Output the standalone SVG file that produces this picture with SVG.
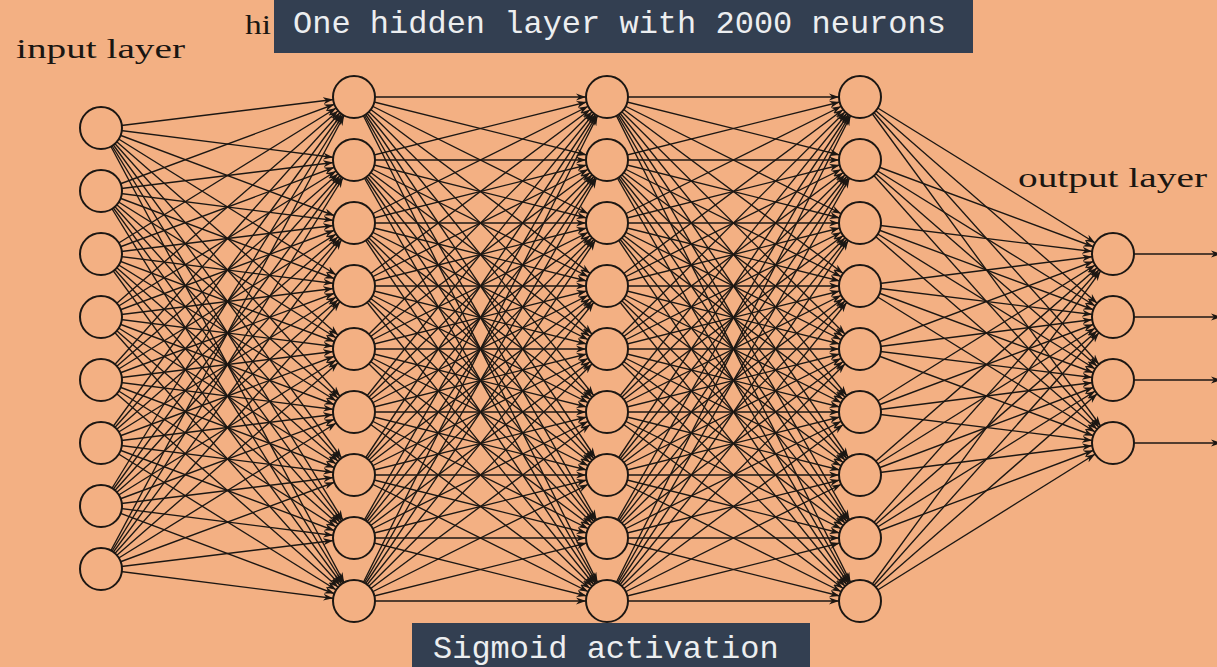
<svg xmlns="http://www.w3.org/2000/svg" width="1217" height="667" viewBox="0 0 1217 667">
<style>
.e{fill:none;stroke:#1c1713;stroke-width:1.35;marker-end:url(#ah)}
.o{fill:none;stroke:#1c1713;stroke-width:1.6;marker-end:url(#ah2)}
.n{fill:#f3b083;stroke:#1c1713;stroke-width:2}
.lbl{font-family:"Liberation Serif",serif;font-size:27px;fill:#1a1612}
.box{fill:#333f51}
.bt{font-family:"Liberation Mono",monospace;font-size:32px;fill:#eceef0}
</style>
<defs>
<marker id="ah" markerUnits="userSpaceOnUse" markerWidth="11" markerHeight="8" refX="31" refY="4" orient="auto"><path d="M0,0.5 L10,4 L0,7.5 L3,4 z" fill="#1c1713"/></marker>
<marker id="ah2" markerUnits="userSpaceOnUse" markerWidth="11" markerHeight="8" refX="10" refY="4" orient="auto"><path d="M0,0.5 L10,4 L0,7.5 L3,4 z" fill="#1c1713"/></marker>
</defs>
<rect width="1217" height="667" fill="#f3b083"/>
<g id="connectors">
<path class="e" d="M101 128L354 97"/><path class="e" d="M101 128L354 160"/><path class="e" d="M101 128L354 223"/><path class="e" d="M101 128L354 286"/><path class="e" d="M101 128L354 349"/><path class="e" d="M101 128L354 412"/><path class="e" d="M101 128L354 475"/><path class="e" d="M101 128L354 538"/><path class="e" d="M101 128L354 601"/>
<path class="e" d="M101 191L354 97"/><path class="e" d="M101 191L354 160"/><path class="e" d="M101 191L354 223"/><path class="e" d="M101 191L354 286"/><path class="e" d="M101 191L354 349"/><path class="e" d="M101 191L354 412"/><path class="e" d="M101 191L354 475"/><path class="e" d="M101 191L354 538"/><path class="e" d="M101 191L354 601"/>
<path class="e" d="M101 254L354 97"/><path class="e" d="M101 254L354 160"/><path class="e" d="M101 254L354 223"/><path class="e" d="M101 254L354 286"/><path class="e" d="M101 254L354 349"/><path class="e" d="M101 254L354 412"/><path class="e" d="M101 254L354 475"/><path class="e" d="M101 254L354 538"/><path class="e" d="M101 254L354 601"/>
<path class="e" d="M101 317L354 97"/><path class="e" d="M101 317L354 160"/><path class="e" d="M101 317L354 223"/><path class="e" d="M101 317L354 286"/><path class="e" d="M101 317L354 349"/><path class="e" d="M101 317L354 412"/><path class="e" d="M101 317L354 475"/><path class="e" d="M101 317L354 538"/><path class="e" d="M101 317L354 601"/>
<path class="e" d="M101 380L354 97"/><path class="e" d="M101 380L354 160"/><path class="e" d="M101 380L354 223"/><path class="e" d="M101 380L354 286"/><path class="e" d="M101 380L354 349"/><path class="e" d="M101 380L354 412"/><path class="e" d="M101 380L354 475"/><path class="e" d="M101 380L354 538"/><path class="e" d="M101 380L354 601"/>
<path class="e" d="M101 443L354 97"/><path class="e" d="M101 443L354 160"/><path class="e" d="M101 443L354 223"/><path class="e" d="M101 443L354 286"/><path class="e" d="M101 443L354 349"/><path class="e" d="M101 443L354 412"/><path class="e" d="M101 443L354 475"/><path class="e" d="M101 443L354 538"/><path class="e" d="M101 443L354 601"/>
<path class="e" d="M101 506L354 97"/><path class="e" d="M101 506L354 160"/><path class="e" d="M101 506L354 223"/><path class="e" d="M101 506L354 286"/><path class="e" d="M101 506L354 349"/><path class="e" d="M101 506L354 412"/><path class="e" d="M101 506L354 475"/><path class="e" d="M101 506L354 538"/><path class="e" d="M101 506L354 601"/>
<path class="e" d="M101 569L354 97"/><path class="e" d="M101 569L354 160"/><path class="e" d="M101 569L354 223"/><path class="e" d="M101 569L354 286"/><path class="e" d="M101 569L354 349"/><path class="e" d="M101 569L354 412"/><path class="e" d="M101 569L354 475"/><path class="e" d="M101 569L354 538"/><path class="e" d="M101 569L354 601"/>

<path class="e" d="M354 97L607 97"/><path class="e" d="M354 97L607 160"/><path class="e" d="M354 97L607 223"/><path class="e" d="M354 97L607 286"/><path class="e" d="M354 97L607 349"/><path class="e" d="M354 97L607 412"/><path class="e" d="M354 97L607 475"/><path class="e" d="M354 97L607 538"/><path class="e" d="M354 97L607 601"/>
<path class="e" d="M354 160L607 97"/><path class="e" d="M354 160L607 160"/><path class="e" d="M354 160L607 223"/><path class="e" d="M354 160L607 286"/><path class="e" d="M354 160L607 349"/><path class="e" d="M354 160L607 412"/><path class="e" d="M354 160L607 475"/><path class="e" d="M354 160L607 538"/><path class="e" d="M354 160L607 601"/>
<path class="e" d="M354 223L607 97"/><path class="e" d="M354 223L607 160"/><path class="e" d="M354 223L607 223"/><path class="e" d="M354 223L607 286"/><path class="e" d="M354 223L607 349"/><path class="e" d="M354 223L607 412"/><path class="e" d="M354 223L607 475"/><path class="e" d="M354 223L607 538"/><path class="e" d="M354 223L607 601"/>
<path class="e" d="M354 286L607 97"/><path class="e" d="M354 286L607 160"/><path class="e" d="M354 286L607 223"/><path class="e" d="M354 286L607 286"/><path class="e" d="M354 286L607 349"/><path class="e" d="M354 286L607 412"/><path class="e" d="M354 286L607 475"/><path class="e" d="M354 286L607 538"/><path class="e" d="M354 286L607 601"/>
<path class="e" d="M354 349L607 97"/><path class="e" d="M354 349L607 160"/><path class="e" d="M354 349L607 223"/><path class="e" d="M354 349L607 286"/><path class="e" d="M354 349L607 349"/><path class="e" d="M354 349L607 412"/><path class="e" d="M354 349L607 475"/><path class="e" d="M354 349L607 538"/><path class="e" d="M354 349L607 601"/>
<path class="e" d="M354 412L607 97"/><path class="e" d="M354 412L607 160"/><path class="e" d="M354 412L607 223"/><path class="e" d="M354 412L607 286"/><path class="e" d="M354 412L607 349"/><path class="e" d="M354 412L607 412"/><path class="e" d="M354 412L607 475"/><path class="e" d="M354 412L607 538"/><path class="e" d="M354 412L607 601"/>
<path class="e" d="M354 475L607 97"/><path class="e" d="M354 475L607 160"/><path class="e" d="M354 475L607 223"/><path class="e" d="M354 475L607 286"/><path class="e" d="M354 475L607 349"/><path class="e" d="M354 475L607 412"/><path class="e" d="M354 475L607 475"/><path class="e" d="M354 475L607 538"/><path class="e" d="M354 475L607 601"/>
<path class="e" d="M354 538L607 97"/><path class="e" d="M354 538L607 160"/><path class="e" d="M354 538L607 223"/><path class="e" d="M354 538L607 286"/><path class="e" d="M354 538L607 349"/><path class="e" d="M354 538L607 412"/><path class="e" d="M354 538L607 475"/><path class="e" d="M354 538L607 538"/><path class="e" d="M354 538L607 601"/>
<path class="e" d="M354 601L607 97"/><path class="e" d="M354 601L607 160"/><path class="e" d="M354 601L607 223"/><path class="e" d="M354 601L607 286"/><path class="e" d="M354 601L607 349"/><path class="e" d="M354 601L607 412"/><path class="e" d="M354 601L607 475"/><path class="e" d="M354 601L607 538"/><path class="e" d="M354 601L607 601"/>

<path class="e" d="M607 97L860 97"/><path class="e" d="M607 97L860 160"/><path class="e" d="M607 97L860 223"/><path class="e" d="M607 97L860 286"/><path class="e" d="M607 97L860 349"/><path class="e" d="M607 97L860 412"/><path class="e" d="M607 97L860 475"/><path class="e" d="M607 97L860 538"/><path class="e" d="M607 97L860 601"/>
<path class="e" d="M607 160L860 97"/><path class="e" d="M607 160L860 160"/><path class="e" d="M607 160L860 223"/><path class="e" d="M607 160L860 286"/><path class="e" d="M607 160L860 349"/><path class="e" d="M607 160L860 412"/><path class="e" d="M607 160L860 475"/><path class="e" d="M607 160L860 538"/><path class="e" d="M607 160L860 601"/>
<path class="e" d="M607 223L860 97"/><path class="e" d="M607 223L860 160"/><path class="e" d="M607 223L860 223"/><path class="e" d="M607 223L860 286"/><path class="e" d="M607 223L860 349"/><path class="e" d="M607 223L860 412"/><path class="e" d="M607 223L860 475"/><path class="e" d="M607 223L860 538"/><path class="e" d="M607 223L860 601"/>
<path class="e" d="M607 286L860 97"/><path class="e" d="M607 286L860 160"/><path class="e" d="M607 286L860 223"/><path class="e" d="M607 286L860 286"/><path class="e" d="M607 286L860 349"/><path class="e" d="M607 286L860 412"/><path class="e" d="M607 286L860 475"/><path class="e" d="M607 286L860 538"/><path class="e" d="M607 286L860 601"/>
<path class="e" d="M607 349L860 97"/><path class="e" d="M607 349L860 160"/><path class="e" d="M607 349L860 223"/><path class="e" d="M607 349L860 286"/><path class="e" d="M607 349L860 349"/><path class="e" d="M607 349L860 412"/><path class="e" d="M607 349L860 475"/><path class="e" d="M607 349L860 538"/><path class="e" d="M607 349L860 601"/>
<path class="e" d="M607 412L860 97"/><path class="e" d="M607 412L860 160"/><path class="e" d="M607 412L860 223"/><path class="e" d="M607 412L860 286"/><path class="e" d="M607 412L860 349"/><path class="e" d="M607 412L860 412"/><path class="e" d="M607 412L860 475"/><path class="e" d="M607 412L860 538"/><path class="e" d="M607 412L860 601"/>
<path class="e" d="M607 475L860 97"/><path class="e" d="M607 475L860 160"/><path class="e" d="M607 475L860 223"/><path class="e" d="M607 475L860 286"/><path class="e" d="M607 475L860 349"/><path class="e" d="M607 475L860 412"/><path class="e" d="M607 475L860 475"/><path class="e" d="M607 475L860 538"/><path class="e" d="M607 475L860 601"/>
<path class="e" d="M607 538L860 97"/><path class="e" d="M607 538L860 160"/><path class="e" d="M607 538L860 223"/><path class="e" d="M607 538L860 286"/><path class="e" d="M607 538L860 349"/><path class="e" d="M607 538L860 412"/><path class="e" d="M607 538L860 475"/><path class="e" d="M607 538L860 538"/><path class="e" d="M607 538L860 601"/>
<path class="e" d="M607 601L860 97"/><path class="e" d="M607 601L860 160"/><path class="e" d="M607 601L860 223"/><path class="e" d="M607 601L860 286"/><path class="e" d="M607 601L860 349"/><path class="e" d="M607 601L860 412"/><path class="e" d="M607 601L860 475"/><path class="e" d="M607 601L860 538"/><path class="e" d="M607 601L860 601"/>

<path class="e" d="M860 97L1113 254"/><path class="e" d="M860 97L1113 317"/><path class="e" d="M860 97L1113 380"/><path class="e" d="M860 97L1113 443"/>
<path class="e" d="M860 160L1113 254"/><path class="e" d="M860 160L1113 317"/><path class="e" d="M860 160L1113 380"/><path class="e" d="M860 160L1113 443"/>
<path class="e" d="M860 223L1113 254"/><path class="e" d="M860 223L1113 317"/><path class="e" d="M860 223L1113 380"/><path class="e" d="M860 223L1113 443"/>
<path class="e" d="M860 286L1113 254"/><path class="e" d="M860 286L1113 317"/><path class="e" d="M860 286L1113 380"/><path class="e" d="M860 286L1113 443"/>
<path class="e" d="M860 349L1113 254"/><path class="e" d="M860 349L1113 317"/><path class="e" d="M860 349L1113 380"/><path class="e" d="M860 349L1113 443"/>
<path class="e" d="M860 412L1113 254"/><path class="e" d="M860 412L1113 317"/><path class="e" d="M860 412L1113 380"/><path class="e" d="M860 412L1113 443"/>
<path class="e" d="M860 475L1113 254"/><path class="e" d="M860 475L1113 317"/><path class="e" d="M860 475L1113 380"/><path class="e" d="M860 475L1113 443"/>
<path class="e" d="M860 538L1113 254"/><path class="e" d="M860 538L1113 317"/><path class="e" d="M860 538L1113 380"/><path class="e" d="M860 538L1113 443"/>
<path class="e" d="M860 601L1113 254"/><path class="e" d="M860 601L1113 317"/><path class="e" d="M860 601L1113 380"/><path class="e" d="M860 601L1113 443"/>

<path class="o" d="M1134 254L1221 254"/><path class="o" d="M1134 317L1221 317"/><path class="o" d="M1134 380L1221 380"/><path class="o" d="M1134 443L1221 443"/>
</g>
<g id="input-layer">
<circle class="n" cx="101" cy="128" r="21"/><circle class="n" cx="101" cy="191" r="21"/><circle class="n" cx="101" cy="254" r="21"/><circle class="n" cx="101" cy="317" r="21"/><circle class="n" cx="101" cy="380" r="21"/><circle class="n" cx="101" cy="443" r="21"/><circle class="n" cx="101" cy="506" r="21"/><circle class="n" cx="101" cy="569" r="21"/>
</g>
<g id="hidden-layer-1">
<circle class="n" cx="354" cy="97" r="21"/><circle class="n" cx="354" cy="160" r="21"/><circle class="n" cx="354" cy="223" r="21"/><circle class="n" cx="354" cy="286" r="21"/><circle class="n" cx="354" cy="349" r="21"/><circle class="n" cx="354" cy="412" r="21"/><circle class="n" cx="354" cy="475" r="21"/><circle class="n" cx="354" cy="538" r="21"/><circle class="n" cx="354" cy="601" r="21"/>
</g>
<g id="hidden-layer-2">
<circle class="n" cx="607" cy="97" r="21"/><circle class="n" cx="607" cy="160" r="21"/><circle class="n" cx="607" cy="223" r="21"/><circle class="n" cx="607" cy="286" r="21"/><circle class="n" cx="607" cy="349" r="21"/><circle class="n" cx="607" cy="412" r="21"/><circle class="n" cx="607" cy="475" r="21"/><circle class="n" cx="607" cy="538" r="21"/><circle class="n" cx="607" cy="601" r="21"/>
</g>
<g id="hidden-layer-3">
<circle class="n" cx="860" cy="97" r="21"/><circle class="n" cx="860" cy="160" r="21"/><circle class="n" cx="860" cy="223" r="21"/><circle class="n" cx="860" cy="286" r="21"/><circle class="n" cx="860" cy="349" r="21"/><circle class="n" cx="860" cy="412" r="21"/><circle class="n" cx="860" cy="475" r="21"/><circle class="n" cx="860" cy="538" r="21"/><circle class="n" cx="860" cy="601" r="21"/>
</g>
<g id="output-layer">
<circle class="n" cx="1113" cy="254" r="21"/><circle class="n" cx="1113" cy="317" r="21"/><circle class="n" cx="1113" cy="380" r="21"/><circle class="n" cx="1113" cy="443" r="21"/>
</g>
<g id="labels">
<text class="lbl" x="16" y="58" textLength="169" lengthAdjust="spacingAndGlyphs">input layer</text>
<text class="lbl" x="245" y="34" textLength="26" lengthAdjust="spacingAndGlyphs">hi</text>
<text class="lbl" x="1018" y="187" textLength="189" lengthAdjust="spacingAndGlyphs">output layer</text>
</g>
<g id="caption-top">
<rect class="box" x="274" y="0" width="699" height="53"/>
<text class="bt" x="293" y="33">One hidden layer with 2000 neurons</text>
</g>
<g id="caption-bottom">
<rect class="box" x="412" y="623" width="398" height="50"/>
<text class="bt" x="433" y="658">Sigmoid activation</text>
</g>
</svg>
